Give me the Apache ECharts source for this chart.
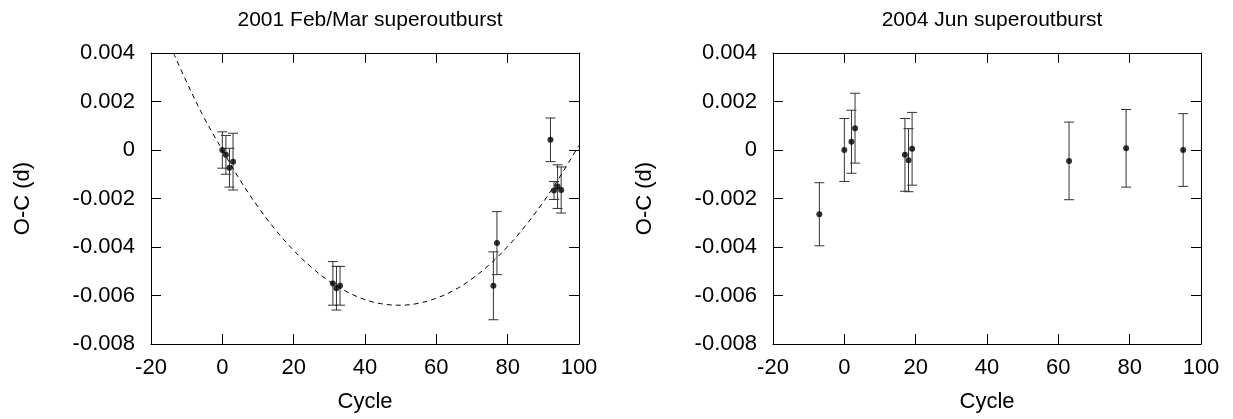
<!DOCTYPE html>
<html>
<head>
<meta charset="utf-8">
<title>O-C diagrams</title>
<script src="https://cdn.jsdelivr.net/npm/echarts@6/dist/echarts.min.js"></script>
<style>
  html, body { margin: 0; padding: 0; background: #fff; }
  #chart { width: 1233px; height: 419px; }
</style>
</head>
<body>
<div id="chart"></div>
<script>
// 2001 Feb/Mar superoutburst
var cycles2001 = [0, 1, 2, 3, 31, 32, 33, 76, 77, 92, 93, 94, 95];
var oc2001 = [0.0000, -0.0002, -0.00073, -0.00048, -0.0055, -0.0057, -0.0056, -0.0056, -0.00384, 0.00042, -0.00167, -0.00151, -0.00165];
var err2001 = [0.00075, 0.0008, 0.0008, 0.00117, 0.0009, 0.0009, 0.0008, 0.0014, 0.0013, 0.0009, 0.00037, 0.0009, 0.00095];

// dashed curve
var fitCycles = [-13.7, -10, -5, 0, 5, 10, 15, 20, 25, 30, 35, 40, 45, 50, 55, 60, 65, 70, 75, 80, 85, 90, 95, 100];
var fitOc = [0.0040, 0.0028, 0.0013, 0.0000, -0.00125, -0.00234, -0.00331, -0.00414, -0.00484, -0.00541, -0.00585, -0.00617, -0.00635, -0.0064,
             -0.00632, -0.00611, -0.00578, -0.00531, -0.00471, -0.00398, -0.00312, -0.00214, -0.00102, 0.0002];

// 2004 Jun superoutburst
var cycles2004 = [-7, 0, 2, 3, 17, 18, 19, 63, 79, 95];
var oc2004 = [-0.00265, 0.0000, 0.00034, 0.0009, -0.0002, -0.00042, 0.00005, -0.00045, 0.00007, 0.0000];
var err2004 = [0.0013, 0.0013, 0.0013, 0.00144, 0.0015, 0.0013, 0.0015, 0.0016, 0.0016, 0.0015];

var titles = ['2001 Feb/Mar superoutburst', '2004 Jun superoutburst'];
var xTicks = { min: -20, max: 100, interval: 20 };
var yTicks = { min: -0.008, max: 0.004, interval: 0.002 };

var FONT = 'Liberation Sans';

function pairs(xs, ys, es) {
  return xs.map(function (x, i) { return es ? [x, ys[i], es[i]] : [x, ys[i]]; });
}

function yLabel(v) {
  if (Math.abs(v) < 1e-9) return '0';
  return v.toFixed(3);
}

// x axes: bottom one with labels, top one just for the mirrored ticks
function xAxis(grid, top) {
  return {
    type: 'value', gridIndex: grid, position: top ? 'top' : 'bottom',
    min: xTicks.min, max: xTicks.max, interval: xTicks.interval,
    name: top ? '' : 'Cycle', nameLocation: 'middle', nameGap: 47,
    nameTextStyle: { color: '#000', fontSize: 22, fontFamily: FONT },
    axisLine: { show: true, onZero: false, lineStyle: { color: '#000', width: 1 } },
    axisTick: { show: true, inside: true, length: 10, lineStyle: { color: '#000' } },
    axisLabel: { show: !top, color: '#000', fontSize: 22, fontFamily: FONT, margin: 13 },
    splitLine: { show: false }
  };
}

function yAxis(grid, right) {
  return {
    type: 'value', gridIndex: grid, position: right ? 'right' : 'left',
    min: yTicks.min, max: yTicks.max, interval: yTicks.interval,
    name: right ? '' : 'O-C (d)', nameLocation: 'middle', nameGap: 117,
    nameTextStyle: { color: '#000', fontSize: 22, fontFamily: FONT },
    axisLine: { show: true, onZero: false, lineStyle: { color: '#000', width: 1 } },
    axisTick: { show: true, inside: true, length: 10, lineStyle: { color: '#000' } },
    axisLabel: { show: !right, color: '#000', fontSize: 22, fontFamily: FONT, margin: 16, formatter: yLabel },
    splitLine: { show: false }
  };
}

// vertical error bar with small caps
function errorBar(params, api) {
  var x = api.value(0), y = api.value(1), e = api.value(2);
  var hi = api.coord([x, y + e]);
  var lo = api.coord([x, y - e]);
  var st = { stroke: '#333', lineWidth: 1 };
  return {
    type: 'group',
    children: [
      { type: 'line', shape: { x1: hi[0], y1: hi[1], x2: lo[0], y2: lo[1] }, style: st },
      { type: 'line', shape: { x1: hi[0] - 5, y1: hi[1], x2: hi[0] + 5, y2: hi[1] }, style: st },
      { type: 'line', shape: { x1: lo[0] - 5, y1: lo[1], x2: lo[0] + 5, y2: lo[1] }, style: st }
    ]
  };
}

var chart = echarts.init(document.getElementById('chart'), null, { renderer: 'canvas' });

chart.setOption({
  backgroundColor: '#fff',
  animation: false,
  title: [
    { text: titles[0], left: 365, top: 5, textAlign: 'center',
      textStyle: { color: '#000', fontSize: 21, fontWeight: 'normal', fontFamily: FONT } },
    { text: titles[1], left: 987, top: 5, textAlign: 'center',
      textStyle: { color: '#000', fontSize: 21, fontWeight: 'normal', fontFamily: FONT } }
  ],
  grid: [
    { left: 151, right: 654, top: 53, bottom: 75 },
    { left: 773, right: 32, top: 53, bottom: 75 }
  ],
  xAxis: [xAxis(0, false), xAxis(0, true), xAxis(1, false), xAxis(1, true)],
  yAxis: [yAxis(0, false), yAxis(0, true), yAxis(1, false), yAxis(1, true)],
  series: [
    {
      name: 'fit', type: 'line', xAxisIndex: 0, yAxisIndex: 0,
      data: pairs(fitCycles, fitOc), smooth: 0.4, showSymbol: false, clip: true,
      lineStyle: { color: '#000', width: 1, type: [5, 4] }
    },
    {
      name: 'err2001', type: 'custom', xAxisIndex: 0, yAxisIndex: 0,
      data: pairs(cycles2001, oc2001, err2001), renderItem: errorBar,
      encode: { x: 0, y: 1 }, z: 3
    },
    {
      name: '2001', type: 'scatter', xAxisIndex: 0, yAxisIndex: 0,
      data: pairs(cycles2001, oc2001), symbol: 'circle', symbolSize: 6,
      itemStyle: { color: '#000' }, z: 4
    },
    {
      name: 'err2004', type: 'custom', xAxisIndex: 2, yAxisIndex: 2,
      data: pairs(cycles2004, oc2004, err2004), renderItem: errorBar,
      encode: { x: 0, y: 1 }, z: 3
    },
    {
      name: '2004', type: 'scatter', xAxisIndex: 2, yAxisIndex: 2,
      data: pairs(cycles2004, oc2004), symbol: 'circle', symbolSize: 6,
      itemStyle: { color: '#000' }, z: 4
    }
  ]
});
</script>
</body>
</html>
